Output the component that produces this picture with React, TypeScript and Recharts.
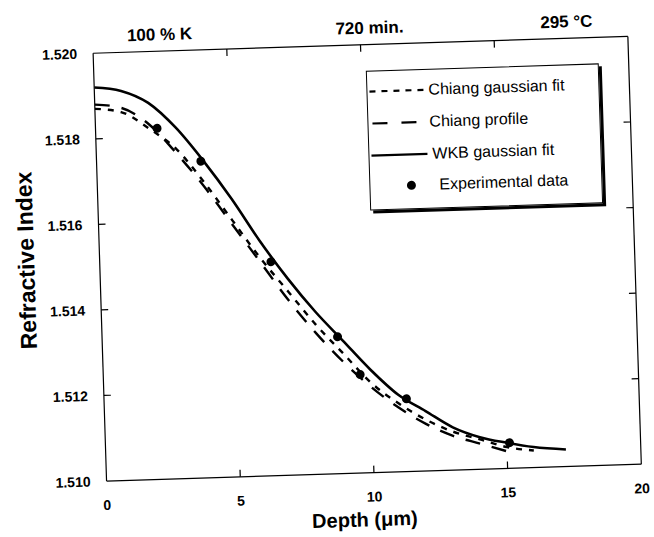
import React from 'react';
import { ComposedChart, Line, Scatter, XAxis, YAxis, Legend } from 'recharts';

// ---- data ----
const xTicks = [0, 5, 10, 15, 20];
const yTicks = [1.51, 1.512, 1.514, 1.516, 1.518, 1.52];

const wkbDepth = [0, 1, 2, 3, 4, 5, 6, 7, 8, 9, 10, 11, 12, 13, 14, 15, 16, 17.2];
const wkbIndex = [1.5192, 1.5191, 1.5188, 1.5182, 1.5174, 1.5165, 1.5155, 1.5146, 1.5138, 1.5131, 1.5124, 1.5118, 1.5114, 1.511, 1.51075, 1.5106, 1.51048, 1.5104];

const chiangFitDepth = [0, 1, 2, 3, 4, 5, 6, 7, 8, 9, 10, 11, 12, 13, 14, 15, 16];
const chiangFitIndex = [1.5187, 1.5186, 1.5182, 1.5177, 1.5169, 1.516, 1.5151, 1.5143, 1.5135, 1.5128, 1.5121, 1.5116, 1.5112, 1.5109, 1.5107, 1.5105, 1.5104];

const chiangProfDepth = [0, 1, 2, 3, 4, 5, 6, 7, 8, 9, 10, 11, 12, 13, 14, 15];
const chiangProfIndex = [1.5188, 1.5187, 1.5183, 1.5176, 1.5168, 1.5159, 1.515, 1.5141, 1.5133, 1.5126, 1.512, 1.5115, 1.5111, 1.5108, 1.5106, 1.5104];

const expDepth = [2.3, 3.9, 6.4, 8.8, 9.6, 11.3, 15.1];
const expIndex = [1.5182, 1.5174, 1.515, 1.5132, 1.5123, 1.5117, 1.5106];

const seriesNames = ['Chiang gaussian fit', 'Chiang profile', 'WKB gaussian fit', 'Experimental data'];
const topLabels = ['100 % K', '720 min.', '295 °C'];
const xTitle = 'Depth (μm)';
const yTitle = 'Refractive Index';

const toRows = (xs: number[], ys: number[]) => xs.map((x, i) => ({ x, n: ys[i] }));
const wkbData = toRows(wkbDepth, wkbIndex);
const chiangFitData = toRows(chiangFitDepth, chiangFitIndex);
const chiangProfData = toRows(chiangProfDepth, chiangProfIndex);
const expData = toRows(expDepth, expIndex);

// ---- styles ----
const FONT = '"Liberation Sans", Arial, Helvetica, sans-serif';
const tickText = { fontFamily: FONT, fontWeight: 700, fontSize: 14, fill: '#000' } as const;
const LEFT_MARGIN = 16;
const BOTTOM_MARGIN = 19;
const TICK_LEN = 7;

const isInnerY = (v: number) => v > 1.5101 && v < 1.5199;
const isInnerX = (v: number) => v > 0.1 && v < 19.9;

const LeftTick = (p: any) => {
  const v = p.payload.value as number;
  return (
    <g>
      {isInnerY(v) && (
        <line x1={p.x + LEFT_MARGIN} y1={p.y} x2={p.x + LEFT_MARGIN + TICK_LEN} y2={p.y} stroke="#000" strokeWidth={1.2} />
      )}
      <text x={p.x} y={p.y} dy="0.36em" textAnchor="end" style={tickText}>
        {v.toFixed(3)}
      </text>
    </g>
  );
};

const RightTick = (p: any) => {
  const v = p.payload.value as number;
  if (!isInnerY(v)) return <g />;
  return <line x1={p.x} y1={p.y} x2={p.x - TICK_LEN} y2={p.y} stroke="#000" strokeWidth={1.2} />;
};

const BottomTick = (p: any) => {
  const v = p.payload.value as number;
  const axisY = p.y - BOTTOM_MARGIN;
  return (
    <g>
      {isInnerX(v) && <line x1={p.x} y1={axisY} x2={p.x} y2={axisY - TICK_LEN} stroke="#000" strokeWidth={1.2} />}
      <text x={p.x} y={p.y} dy="0.71em" textAnchor="middle" style={tickText}>
        {String(v)}
      </text>
    </g>
  );
};

const TopTick = (p: any) => {
  const v = p.payload.value as number;
  if (!isInnerX(v)) return <g />;
  return <line x1={p.x} y1={p.y} x2={p.x} y2={p.y + TICK_LEN} stroke="#000" strokeWidth={1.2} />;
};

const Dot = (p: any) => <circle cx={p.cx} cy={p.cy} r={4.5} fill="#000" />;

const legendSamples: Record<string, React.ReactNode> = {
  'Chiang gaussian fit': <line x1={2} y1={6} x2={57} y2={6} stroke="#000" strokeWidth={2.2} strokeDasharray="6 6" />,
  'Chiang profile': <line x1={4} y1={6} x2={52} y2={6} stroke="#000" strokeWidth={2.2} strokeDasharray="15 14" />,
  'WKB gaussian fit': <line x1={2} y1={6} x2={58} y2={6} stroke="#000" strokeWidth={2.2} />,
  'Experimental data': <circle cx={41} cy={6} r={4.5} fill="#000" />,
};
const legendTextLeft: Record<string, number> = {
  'Chiang gaussian fit': 61,
  'Chiang profile': 61,
  'WKB gaussian fit': 63,
  'Experimental data': 69,
};
const legendRowTop = [20, 52, 84, 115];

const LegendBox = () => (
  <div
    style={{
      position: 'relative',
      width: 233,
      height: 140,
      border: '1.5px solid #000',
      boxShadow: '3px 3px 0 #000',
      background: '#fff',
      boxSizing: 'border-box',
    }}
  >
    {seriesNames.map((name, i) => (
      <div key={name} style={{ position: 'absolute', left: 0, top: legendRowTop[i] - 8, width: 231, height: 16 }}>
        <svg width={60} height={12} style={{ position: 'absolute', left: 0, top: 2 }}>
          {legendSamples[name]}
        </svg>
        <span
          style={{
            position: 'absolute',
            left: legendTextLeft[name],
            top: -2,
            fontFamily: FONT,
            fontSize: 16,
            lineHeight: '20px',
            whiteSpace: 'nowrap',
            color: '#000',
          }}
        >
          {name}
        </span>
      </div>
    ))}
  </div>
);

const topLabelX = [167, 377, 574];

export default function App() {
  return (
    <div
      style={{
        position: 'absolute',
        left: 0,
        top: 0,
        width: 654,
        height: 537,
        background: '#fff',
        transform: 'rotate(-1.8deg)',
        transformOrigin: '327px 268.5px',
      }}
    >
      <ComposedChart width={654} height={537} margin={{ top: 44, right: 17, bottom: 33, left: 30 }}>
        <XAxis
          xAxisId="b"
          type="number"
          dataKey="x"
          domain={[0, 20]}
          ticks={xTicks}
          interval={0}
          allowDataOverflow
          height={30}
          tickSize={0}
          tickMargin={BOTTOM_MARGIN}
          tick={<BottomTick />}
          axisLine={{ stroke: '#000', strokeWidth: 1.2 }}
        />
        <XAxis
          xAxisId="t"
          orientation="top"
          type="number"
          dataKey="x"
          domain={[0, 20]}
          ticks={xTicks}
          interval={0}
          allowDataOverflow
          height={2}
          tickSize={0}
          tickMargin={0}
          tick={<TopTick />}
          axisLine={{ stroke: '#000', strokeWidth: 1.2 }}
        />
        <YAxis
          yAxisId="l"
          type="number"
          domain={[1.51, 1.52]}
          ticks={yTicks}
          interval={0}
          allowDataOverflow
          width={70}
          tickSize={0}
          tickMargin={LEFT_MARGIN}
          tick={<LeftTick />}
          axisLine={{ stroke: '#000', strokeWidth: 1.2 }}
        />
        <YAxis
          yAxisId="r"
          orientation="right"
          type="number"
          domain={[1.51, 1.52]}
          ticks={yTicks}
          interval={0}
          allowDataOverflow
          width={2}
          tickSize={0}
          tickMargin={0}
          tick={<RightTick />}
          axisLine={{ stroke: '#000', strokeWidth: 1.2 }}
        />
        <Line
          name={seriesNames[0]}
          data={chiangFitData}
          dataKey="n"
          xAxisId="b"
          yAxisId="l"
          type="monotone"
          stroke="#000"
          strokeWidth={2.4}
          strokeDasharray="6 7"
          dot={false}
          activeDot={false}
          isAnimationActive={false}
        />
        <Line
          name={seriesNames[1]}
          data={chiangProfData}
          dataKey="n"
          xAxisId="b"
          yAxisId="l"
          type="monotone"
          stroke="#000"
          strokeWidth={2.4}
          strokeDasharray="15 12"
          dot={false}
          activeDot={false}
          isAnimationActive={false}
        />
        <Line
          name={seriesNames[2]}
          data={wkbData}
          dataKey="n"
          xAxisId="b"
          yAxisId="l"
          type="monotone"
          stroke="#000"
          strokeWidth={2.6}
          dot={false}
          activeDot={false}
          isAnimationActive={false}
        />
        <Scatter
          name={seriesNames[3]}
          data={expData}
          dataKey="n"
          xAxisId="b"
          yAxisId="l"
          fill="#000"
          shape={<Dot />}
          isAnimationActive={false}
        />
        <Legend
          layout="vertical"
          align="center"
          verticalAlign="middle"
          content={() => <LegendBox />}
          wrapperStyle={{ position: 'absolute', left: 372, top: 72, width: 'auto', height: 'auto' }}
        />
      </ComposedChart>

      {topLabels.map((t, i) => (
        <div
          key={t}
          style={{
            position: 'absolute',
            left: topLabelX[i],
            top: 30,
            transform: 'translate(-50%, -50%)',
            fontFamily: FONT,
            fontWeight: 700,
            fontSize: 17,
            whiteSpace: 'nowrap',
            color: '#000',
          }}
        >
          {t}
        </div>
      ))}
      <div
        style={{
          position: 'absolute',
          left: 27,
          top: 251,
          transform: 'translate(-50%, -50%) rotate(-90deg)',
          fontFamily: FONT,
          fontWeight: 700,
          fontSize: 23,
          whiteSpace: 'nowrap',
          color: '#000',
        }}
      >
        {yTitle}
      </div>
      <div
        style={{
          position: 'absolute',
          left: 357,
          top: 521,
          transform: 'translate(-50%, -50%)',
          fontFamily: FONT,
          fontWeight: 700,
          fontSize: 20,
          whiteSpace: 'nowrap',
          color: '#000',
        }}
      >
        {xTitle}
      </div>
    </div>
  );
}
